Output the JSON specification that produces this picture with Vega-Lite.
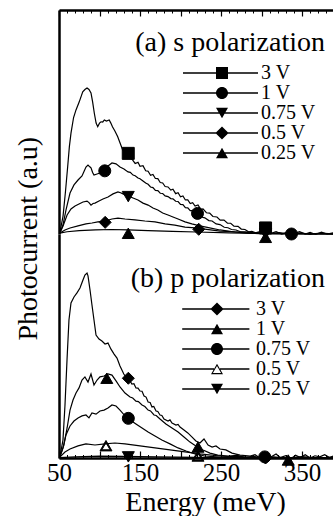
{
  "$schema": "https://vega.github.io/schema/vega-lite/v6.json",
  "background": "white",
  "padding": {"left": 14, "top": 9, "right": 0, "bottom": 0},
  "config": {
    "view": {"stroke": null},
    "axis": {"domainColor": "black", "domainWidth": 2.5, "tickColor": "black", "grid": false, "labelColor": "black", "titleColor": "black", "titleFontWeight": "normal"},
    "legend": {"labelColor": "black"},
    "title": {"font": "Liberation Serif, Times New Roman, serif", "fontWeight": "normal", "color": "black"}
  },
  "datasets": {
    "curves": [
      {"p":"a","V":"3 V","E":51,"I":0.05},{"p":"a","V":"3 V","E":55,"I":0.8},{"p":"a","V":"3 V","E":58,"I":1.9},{"p":"a","V":"3 V","E":60.7,"I":3.0},{"p":"a","V":"3 V","E":62.8,"I":3.9},{"p":"a","V":"3 V","E":64.8,"I":4.5},{"p":"a","V":"3 V","E":68,"I":5.2},{"p":"a","V":"3 V","E":71,"I":5.54},{"p":"a","V":"3 V","E":75,"I":5.9},{"p":"a","V":"3 V","E":79.3,"I":6.35},{"p":"a","V":"3 V","E":82,"I":6.45},{"p":"a","V":"3 V","E":84.6,"I":6.52},{"p":"a","V":"3 V","E":87,"I":6.45},{"p":"a","V":"3 V","E":89.5,"I":6.3},{"p":"a","V":"3 V","E":91.5,"I":5.9},{"p":"a","V":"3 V","E":93.6,"I":5.39},{"p":"a","V":"3 V","E":95.8,"I":4.95},{"p":"a","V":"3 V","E":97.8,"I":4.79},{"p":"a","V":"3 V","E":100,"I":4.95},{"p":"a","V":"3 V","E":101.9,"I":5.01},{"p":"a","V":"3 V","E":104,"I":5.0},{"p":"a","V":"3 V","E":106,"I":5.09},{"p":"a","V":"3 V","E":108.5,"I":5.04},{"p":"a","V":"3 V","E":112,"I":5.09},{"p":"a","V":"3 V","E":114,"I":4.95},{"p":"a","V":"3 V","E":116,"I":4.79},{"p":"a","V":"3 V","E":119,"I":4.6},{"p":"a","V":"3 V","E":122.5,"I":4.34},{"p":"a","V":"3 V","E":125.5,"I":4.05},{"p":"a","V":"3 V","E":128.6,"I":3.75},{"p":"a","V":"3 V","E":132,"I":3.62},{"p":"a","V":"3 V","E":135.6,"I":3.55},{"p":"a","V":"3 V","E":138,"I":3.4},{"p":"a","V":"3 V","E":141,"I":3.3},{"p":"a","V":"3 V","E":144,"I":3.15},{"p":"a","V":"3 V","E":147.5,"I":3.2},{"p":"a","V":"3 V","E":150,"I":3.02},{"p":"a","V":"3 V","E":153.7,"I":3.05},{"p":"a","V":"3 V","E":157,"I":2.82},{"p":"a","V":"3 V","E":160,"I":2.8},{"p":"a","V":"3 V","E":163,"I":2.62},{"p":"a","V":"3 V","E":166,"I":2.66},{"p":"a","V":"3 V","E":169,"I":2.48},{"p":"a","V":"3 V","E":172,"I":2.47},{"p":"a","V":"3 V","E":175,"I":2.3},{"p":"a","V":"3 V","E":178,"I":2.28},{"p":"a","V":"3 V","E":181,"I":2.12},{"p":"a","V":"3 V","E":184.6,"I":2.1},{"p":"a","V":"3 V","E":188,"I":1.96},{"p":"a","V":"3 V","E":190.7,"I":2.0},{"p":"a","V":"3 V","E":194,"I":1.8},{"p":"a","V":"3 V","E":197,"I":1.84},{"p":"a","V":"3 V","E":200,"I":1.66},{"p":"a","V":"3 V","E":203,"I":1.7},{"p":"a","V":"3 V","E":206,"I":1.52},{"p":"a","V":"3 V","E":209,"I":1.52},{"p":"a","V":"3 V","E":212,"I":1.36},{"p":"a","V":"3 V","E":215,"I":1.4},{"p":"a","V":"3 V","E":218,"I":1.25},{"p":"a","V":"3 V","E":221.6,"I":1.3},{"p":"a","V":"3 V","E":225,"I":1.1},{"p":"a","V":"3 V","E":227.8,"I":1.12},{"p":"a","V":"3 V","E":232,"I":0.95},{"p":"a","V":"3 V","E":236,"I":0.93},{"p":"a","V":"3 V","E":240,"I":0.78},{"p":"a","V":"3 V","E":245,"I":0.76},{"p":"a","V":"3 V","E":249,"I":0.62},{"p":"a","V":"3 V","E":253.7,"I":0.62},{"p":"a","V":"3 V","E":258,"I":0.48},{"p":"a","V":"3 V","E":262,"I":0.48},{"p":"a","V":"3 V","E":266,"I":0.35},{"p":"a","V":"3 V","E":271,"I":0.34},{"p":"a","V":"3 V","E":275,"I":0.22},{"p":"a","V":"3 V","E":279.6,"I":0.2},{"p":"a","V":"3 V","E":284,"I":0.1},{"p":"a","V":"3 V","E":288,"I":0.12},{"p":"a","V":"3 V","E":293,"I":0.05},{"p":"a","V":"3 V","E":298,"I":0.1},{"p":"a","V":"3 V","E":305,"I":0.12},{"p":"a","V":"3 V","E":312,"I":0.03},{"p":"a","V":"3 V","E":318,"I":0.1},{"p":"a","V":"3 V","E":325,"I":0.0},{"p":"a","V":"3 V","E":332,"I":0.08},{"p":"a","V":"3 V","E":340,"I":0.02},{"p":"a","V":"3 V","E":347,"I":0.1},{"p":"a","V":"3 V","E":354,"I":0.0},{"p":"a","V":"3 V","E":360,"I":0.07},{"p":"a","V":"3 V","E":367,"I":-0.02},{"p":"a","V":"3 V","E":374,"I":0.08},{"p":"a","V":"3 V","E":381,"I":0.0},{"p":"a","V":"3 V","E":389.5,"I":0.06},

      {"p":"a","V":"1 V","E":51,"I":0.04},{"p":"a","V":"1 V","E":54.9,"I":0.4},{"p":"a","V":"1 V","E":58.6,"I":1.07},{"p":"a","V":"1 V","E":63.6,"I":1.83},{"p":"a","V":"1 V","E":68.5,"I":2.19},{"p":"a","V":"1 V","E":73.5,"I":2.41},{"p":"a","V":"1 V","E":78.4,"I":2.59},{"p":"a","V":"1 V","E":81,"I":2.8},{"p":"a","V":"1 V","E":83.3,"I":2.99},{"p":"a","V":"1 V","E":85.8,"I":3.08},{"p":"a","V":"1 V","E":88,"I":3.0},{"p":"a","V":"1 V","E":89.5,"I":2.95},{"p":"a","V":"1 V","E":91.5,"I":2.75},{"p":"a","V":"1 V","E":93.2,"I":2.63},{"p":"a","V":"1 V","E":97,"I":2.68},{"p":"a","V":"1 V","E":100.6,"I":2.72},{"p":"a","V":"1 V","E":105.6,"I":2.86},{"p":"a","V":"1 V","E":110.5,"I":3.04},{"p":"a","V":"1 V","E":115.4,"I":3.17},{"p":"a","V":"1 V","E":120.4,"I":3.13},{"p":"a","V":"1 V","E":125.3,"I":2.99},{"p":"a","V":"1 V","E":130.2,"I":2.9},{"p":"a","V":"1 V","E":135.2,"I":2.77},{"p":"a","V":"1 V","E":138,"I":2.75},{"p":"a","V":"1 V","E":141.4,"I":2.63},{"p":"a","V":"1 V","E":144,"I":2.6},{"p":"a","V":"1 V","E":147.5,"I":2.5},{"p":"a","V":"1 V","E":150,"I":2.47},{"p":"a","V":"1 V","E":153.7,"I":2.37},{"p":"a","V":"1 V","E":157,"I":2.28},{"p":"a","V":"1 V","E":160,"I":2.22},{"p":"a","V":"1 V","E":163,"I":2.1},{"p":"a","V":"1 V","E":166,"I":2.07},{"p":"a","V":"1 V","E":169,"I":1.95},{"p":"a","V":"1 V","E":172,"I":1.94},{"p":"a","V":"1 V","E":175,"I":1.82},{"p":"a","V":"1 V","E":178,"I":1.81},{"p":"a","V":"1 V","E":181,"I":1.7},{"p":"a","V":"1 V","E":184.6,"I":1.67},{"p":"a","V":"1 V","E":188,"I":1.58},{"p":"a","V":"1 V","E":190.7,"I":1.57},{"p":"a","V":"1 V","E":194,"I":1.46},{"p":"a","V":"1 V","E":197,"I":1.45},{"p":"a","V":"1 V","E":200,"I":1.32},{"p":"a","V":"1 V","E":203,"I":1.31},{"p":"a","V":"1 V","E":206,"I":1.18},{"p":"a","V":"1 V","E":209,"I":1.17},{"p":"a","V":"1 V","E":212,"I":1.04},{"p":"a","V":"1 V","E":215,"I":1.04},{"p":"a","V":"1 V","E":218,"I":0.92},{"p":"a","V":"1 V","E":221.6,"I":0.9},{"p":"a","V":"1 V","E":226,"I":0.76},{"p":"a","V":"1 V","E":230,"I":0.72},{"p":"a","V":"1 V","E":235,"I":0.6},{"p":"a","V":"1 V","E":239,"I":0.58},{"p":"a","V":"1 V","E":244,"I":0.45},{"p":"a","V":"1 V","E":248.8,"I":0.42},{"p":"a","V":"1 V","E":254,"I":0.3},{"p":"a","V":"1 V","E":258.6,"I":0.28},{"p":"a","V":"1 V","E":263,"I":0.2},{"p":"a","V":"1 V","E":268.5,"I":0.18},{"p":"a","V":"1 V","E":274,"I":0.1},{"p":"a","V":"1 V","E":279.6,"I":0.1},{"p":"a","V":"1 V","E":290,"I":0.05},{"p":"a","V":"1 V","E":300,"I":0.1},{"p":"a","V":"1 V","E":310,"I":0.02},{"p":"a","V":"1 V","E":322,"I":0.06},{"p":"a","V":"1 V","E":335,"I":0.0},{"p":"a","V":"1 V","E":348,"I":0.05},{"p":"a","V":"1 V","E":360,"I":-0.02},{"p":"a","V":"1 V","E":372,"I":0.04},{"p":"a","V":"1 V","E":389.5,"I":0.0},

      {"p":"a","V":"0.75 V","E":51,"I":0.04},{"p":"a","V":"0.75 V","E":55,"I":0.36},{"p":"a","V":"0.75 V","E":60,"I":0.85},{"p":"a","V":"0.75 V","E":64.8,"I":1.12},{"p":"a","V":"0.75 V","E":69.8,"I":1.25},{"p":"a","V":"0.75 V","E":74.7,"I":1.34},{"p":"a","V":"0.75 V","E":79.6,"I":1.43},{"p":"a","V":"0.75 V","E":84.6,"I":1.47},{"p":"a","V":"0.75 V","E":87,"I":1.4},{"p":"a","V":"0.75 V","E":89.5,"I":1.29},{"p":"a","V":"0.75 V","E":92,"I":1.36},{"p":"a","V":"0.75 V","E":94.4,"I":1.38},{"p":"a","V":"0.75 V","E":99.4,"I":1.47},{"p":"a","V":"0.75 V","E":104.3,"I":1.56},{"p":"a","V":"0.75 V","E":110.5,"I":1.65},{"p":"a","V":"0.75 V","E":116.7,"I":1.79},{"p":"a","V":"0.75 V","E":122.8,"I":1.88},{"p":"a","V":"0.75 V","E":126,"I":1.84},{"p":"a","V":"0.75 V","E":129,"I":1.79},{"p":"a","V":"0.75 V","E":135.2,"I":1.7},{"p":"a","V":"0.75 V","E":141.4,"I":1.61},{"p":"a","V":"0.75 V","E":147.5,"I":1.52},{"p":"a","V":"0.75 V","E":153.7,"I":1.38},{"p":"a","V":"0.75 V","E":160,"I":1.29},{"p":"a","V":"0.75 V","E":166,"I":1.16},{"p":"a","V":"0.75 V","E":172,"I":1.07},{"p":"a","V":"0.75 V","E":178,"I":0.94},{"p":"a","V":"0.75 V","E":184.6,"I":0.85},{"p":"a","V":"0.75 V","E":190.7,"I":0.76},{"p":"a","V":"0.75 V","E":197,"I":0.67},{"p":"a","V":"0.75 V","E":205.6,"I":0.54},{"p":"a","V":"0.75 V","E":214,"I":0.45},{"p":"a","V":"0.75 V","E":224,"I":0.36},{"p":"a","V":"0.75 V","E":236,"I":0.27},{"p":"a","V":"0.75 V","E":248.8,"I":0.18},{"p":"a","V":"0.75 V","E":267,"I":0.09},{"p":"a","V":"0.75 V","E":285,"I":0.03},{"p":"a","V":"0.75 V","E":310,"I":0.02},{"p":"a","V":"0.75 V","E":389.5,"I":0.0},

      {"p":"a","V":"0.5 V","E":51,"I":0.04},{"p":"a","V":"0.5 V","E":57.4,"I":0.18},{"p":"a","V":"0.5 V","E":63.6,"I":0.27},{"p":"a","V":"0.5 V","E":73.5,"I":0.36},{"p":"a","V":"0.5 V","E":83.3,"I":0.45},{"p":"a","V":"0.5 V","E":90.7,"I":0.49},{"p":"a","V":"0.5 V","E":98,"I":0.54},{"p":"a","V":"0.5 V","E":106.8,"I":0.58},{"p":"a","V":"0.5 V","E":115.4,"I":0.67},{"p":"a","V":"0.5 V","E":122.8,"I":0.71},{"p":"a","V":"0.5 V","E":131.5,"I":0.67},{"p":"a","V":"0.5 V","E":143.8,"I":0.63},{"p":"a","V":"0.5 V","E":156,"I":0.58},{"p":"a","V":"0.5 V","E":168.5,"I":0.54},{"p":"a","V":"0.5 V","E":181,"I":0.45},{"p":"a","V":"0.5 V","E":193,"I":0.4},{"p":"a","V":"0.5 V","E":205.6,"I":0.31},{"p":"a","V":"0.5 V","E":218,"I":0.27},{"p":"a","V":"0.5 V","E":230,"I":0.22},{"p":"a","V":"0.5 V","E":248.8,"I":0.13},{"p":"a","V":"0.5 V","E":273,"I":0.09},{"p":"a","V":"0.5 V","E":300,"I":0.03},{"p":"a","V":"0.5 V","E":389.5,"I":0.0},

      {"p":"a","V":"0.25 V","E":51,"I":0.04},{"p":"a","V":"0.25 V","E":60,"I":0.1},{"p":"a","V":"0.25 V","E":75,"I":0.15},{"p":"a","V":"0.25 V","E":95,"I":0.18},{"p":"a","V":"0.25 V","E":115,"I":0.2},{"p":"a","V":"0.25 V","E":135,"I":0.18},{"p":"a","V":"0.25 V","E":160,"I":0.15},{"p":"a","V":"0.25 V","E":190,"I":0.12},{"p":"a","V":"0.25 V","E":220,"I":0.09},{"p":"a","V":"0.25 V","E":260,"I":0.05},{"p":"a","V":"0.25 V","E":300,"I":0.02},{"p":"a","V":"0.25 V","E":389.5,"I":0.0},

      {"p":"b","V":"3 V","E":51,"I":0.04},{"p":"b","V":"3 V","E":54.9,"I":0.8},{"p":"b","V":"3 V","E":57.4,"I":2.37},{"p":"b","V":"3 V","E":59.9,"I":4.38},{"p":"b","V":"3 V","E":62.3,"I":6.16},{"p":"b","V":"3 V","E":64.8,"I":6.92},{"p":"b","V":"3 V","E":68.5,"I":7.19},{"p":"b","V":"3 V","E":72.2,"I":7.37},{"p":"b","V":"3 V","E":75.9,"I":7.59},{"p":"b","V":"3 V","E":79.6,"I":7.95},{"p":"b","V":"3 V","E":82,"I":8.17},{"p":"b","V":"3 V","E":84.6,"I":8.26},{"p":"b","V":"3 V","E":85.8,"I":8.13},{"p":"b","V":"3 V","E":88.3,"I":7.5},{"p":"b","V":"3 V","E":90.7,"I":6.83},{"p":"b","V":"3 V","E":93.2,"I":6.16},{"p":"b","V":"3 V","E":95.7,"I":5.49},{"p":"b","V":"3 V","E":99.4,"I":5.31},{"p":"b","V":"3 V","E":103,"I":5.22},{"p":"b","V":"3 V","E":106.8,"I":5.09},{"p":"b","V":"3 V","E":110.5,"I":5.13},{"p":"b","V":"3 V","E":114,"I":4.87},{"p":"b","V":"3 V","E":118,"I":4.64},{"p":"b","V":"3 V","E":121.6,"I":4.46},{"p":"b","V":"3 V","E":125.3,"I":4.11},{"p":"b","V":"3 V","E":130,"I":3.75},{"p":"b","V":"3 V","E":135,"I":3.48},{"p":"b","V":"3 V","E":137.5,"I":3.45},{"p":"b","V":"3 V","E":140,"I":3.3},{"p":"b","V":"3 V","E":142.5,"I":3.32},{"p":"b","V":"3 V","E":145,"I":3.13},{"p":"b","V":"3 V","E":147.5,"I":3.12},{"p":"b","V":"3 V","E":150,"I":2.99},{"p":"b","V":"3 V","E":152.5,"I":2.98},{"p":"b","V":"3 V","E":155,"I":2.77},{"p":"b","V":"3 V","E":157.5,"I":2.72},{"p":"b","V":"3 V","E":160,"I":2.5},{"p":"b","V":"3 V","E":162.5,"I":2.48},{"p":"b","V":"3 V","E":164.8,"I":2.28},{"p":"b","V":"3 V","E":167,"I":2.3},{"p":"b","V":"3 V","E":169.8,"I":2.1},{"p":"b","V":"3 V","E":172,"I":2.08},{"p":"b","V":"3 V","E":174.7,"I":1.92},{"p":"b","V":"3 V","E":177,"I":1.9},{"p":"b","V":"3 V","E":179.6,"I":1.74},{"p":"b","V":"3 V","E":184.6,"I":1.65},{"p":"b","V":"3 V","E":187,"I":1.7},{"p":"b","V":"3 V","E":189.5,"I":1.56},{"p":"b","V":"3 V","E":194.4,"I":1.47},{"p":"b","V":"3 V","E":197,"I":1.5},{"p":"b","V":"3 V","E":199.4,"I":1.38},{"p":"b","V":"3 V","E":204.3,"I":1.25},{"p":"b","V":"3 V","E":209,"I":1.12},{"p":"b","V":"3 V","E":214,"I":0.94},{"p":"b","V":"3 V","E":219,"I":0.76},{"p":"b","V":"3 V","E":224,"I":0.67},{"p":"b","V":"3 V","E":229,"I":0.85},{"p":"b","V":"3 V","E":234,"I":0.58},{"p":"b","V":"3 V","E":239,"I":0.49},{"p":"b","V":"3 V","E":243.8,"I":0.54},{"p":"b","V":"3 V","E":248.8,"I":0.4},{"p":"b","V":"3 V","E":256,"I":0.36},{"p":"b","V":"3 V","E":263.6,"I":0.22},{"p":"b","V":"3 V","E":273.5,"I":0.13},{"p":"b","V":"3 V","E":286,"I":0.09},{"p":"b","V":"3 V","E":292,"I":0.15},{"p":"b","V":"3 V","E":298,"I":0.0},{"p":"b","V":"3 V","E":305,"I":0.12},{"p":"b","V":"3 V","E":312,"I":0.05},{"p":"b","V":"3 V","E":318,"I":0.18},{"p":"b","V":"3 V","E":323,"I":0.02},{"p":"b","V":"3 V","E":330,"I":0.1},{"p":"b","V":"3 V","E":336,"I":-0.05},{"p":"b","V":"3 V","E":342,"I":0.12},{"p":"b","V":"3 V","E":348,"I":0.02},{"p":"b","V":"3 V","E":354,"I":0.15},{"p":"b","V":"3 V","E":360,"I":0.0},{"p":"b","V":"3 V","E":366,"I":0.1},{"p":"b","V":"3 V","E":372,"I":0.05},{"p":"b","V":"3 V","E":378,"I":0.15},{"p":"b","V":"3 V","E":384,"I":0.02},{"p":"b","V":"3 V","E":389.5,"I":0.1},

      {"p":"b","V":"1 V","E":51,"I":0.04},{"p":"b","V":"1 V","E":56,"I":0.58},{"p":"b","V":"1 V","E":60,"I":1.34},{"p":"b","V":"1 V","E":63.6,"I":2.14},{"p":"b","V":"1 V","E":67.3,"I":2.59},{"p":"b","V":"1 V","E":71,"I":2.9},{"p":"b","V":"1 V","E":74.7,"I":3.13},{"p":"b","V":"1 V","E":78.4,"I":3.48},{"p":"b","V":"1 V","E":82,"I":3.62},{"p":"b","V":"1 V","E":85.8,"I":3.39},{"p":"b","V":"1 V","E":89.5,"I":3.75},{"p":"b","V":"1 V","E":93.2,"I":3.26},{"p":"b","V":"1 V","E":97,"I":3.48},{"p":"b","V":"1 V","E":100.6,"I":3.62},{"p":"b","V":"1 V","E":105.6,"I":3.66},{"p":"b","V":"1 V","E":110.5,"I":3.75},{"p":"b","V":"1 V","E":115.4,"I":3.7},{"p":"b","V":"1 V","E":120.4,"I":3.44},{"p":"b","V":"1 V","E":125.3,"I":3.17},{"p":"b","V":"1 V","E":131.5,"I":2.9},{"p":"b","V":"1 V","E":137.7,"I":2.72},{"p":"b","V":"1 V","E":141,"I":2.68},{"p":"b","V":"1 V","E":145,"I":2.54},{"p":"b","V":"1 V","E":148,"I":2.52},{"p":"b","V":"1 V","E":152.5,"I":2.37},{"p":"b","V":"1 V","E":156,"I":2.3},{"p":"b","V":"1 V","E":160,"I":2.14},{"p":"b","V":"1 V","E":163,"I":2.1},{"p":"b","V":"1 V","E":167.3,"I":1.92},{"p":"b","V":"1 V","E":170,"I":1.9},{"p":"b","V":"1 V","E":174.7,"I":1.74},{"p":"b","V":"1 V","E":182,"I":1.52},{"p":"b","V":"1 V","E":189.5,"I":1.34},{"p":"b","V":"1 V","E":197,"I":1.16},{"p":"b","V":"1 V","E":204.3,"I":0.94},{"p":"b","V":"1 V","E":211.7,"I":0.71},{"p":"b","V":"1 V","E":219,"I":0.54},{"p":"b","V":"1 V","E":227.8,"I":0.36},{"p":"b","V":"1 V","E":236.4,"I":0.22},{"p":"b","V":"1 V","E":246,"I":0.13},{"p":"b","V":"1 V","E":258.6,"I":0.09},{"p":"b","V":"1 V","E":270,"I":0.12},{"p":"b","V":"1 V","E":280,"I":0.02},{"p":"b","V":"1 V","E":290,"I":0.08},{"p":"b","V":"1 V","E":300,"I":0.0},{"p":"b","V":"1 V","E":315,"I":0.05},{"p":"b","V":"1 V","E":330,"I":0.0},{"p":"b","V":"1 V","E":350,"I":0.06},{"p":"b","V":"1 V","E":370,"I":0.0},{"p":"b","V":"1 V","E":389.5,"I":0.04},

      {"p":"b","V":"0.75 V","E":51,"I":0.04},{"p":"b","V":"0.75 V","E":55,"I":0.45},{"p":"b","V":"0.75 V","E":58.6,"I":1.03},{"p":"b","V":"0.75 V","E":63.6,"I":1.43},{"p":"b","V":"0.75 V","E":68.5,"I":1.65},{"p":"b","V":"0.75 V","E":73.5,"I":1.79},{"p":"b","V":"0.75 V","E":78.4,"I":1.88},{"p":"b","V":"0.75 V","E":83.3,"I":1.92},{"p":"b","V":"0.75 V","E":87,"I":1.79},{"p":"b","V":"0.75 V","E":90.7,"I":2.01},{"p":"b","V":"0.75 V","E":95.7,"I":1.96},{"p":"b","V":"0.75 V","E":100.6,"I":2.1},{"p":"b","V":"0.75 V","E":105.6,"I":2.14},{"p":"b","V":"0.75 V","E":110.5,"I":2.23},{"p":"b","V":"0.75 V","E":115.4,"I":2.37},{"p":"b","V":"0.75 V","E":120.4,"I":2.32},{"p":"b","V":"0.75 V","E":125.3,"I":2.14},{"p":"b","V":"0.75 V","E":131.5,"I":1.88},{"p":"b","V":"0.75 V","E":137.7,"I":1.7},{"p":"b","V":"0.75 V","E":145,"I":1.52},{"p":"b","V":"0.75 V","E":152.5,"I":1.34},{"p":"b","V":"0.75 V","E":160,"I":1.16},{"p":"b","V":"0.75 V","E":168.5,"I":0.98},{"p":"b","V":"0.75 V","E":177,"I":0.8},{"p":"b","V":"0.75 V","E":187,"I":0.63},{"p":"b","V":"0.75 V","E":197,"I":0.45},{"p":"b","V":"0.75 V","E":206.8,"I":0.31},{"p":"b","V":"0.75 V","E":218,"I":0.18},{"p":"b","V":"0.75 V","E":230,"I":0.09},{"p":"b","V":"0.75 V","E":248.8,"I":0.04},{"p":"b","V":"0.75 V","E":270,"I":0.06},{"p":"b","V":"0.75 V","E":300,"I":0.0},{"p":"b","V":"0.75 V","E":389.5,"I":0.0},

      {"p":"b","V":"0.5 V","E":51,"I":0.04},{"p":"b","V":"0.5 V","E":57.4,"I":0.27},{"p":"b","V":"0.5 V","E":63.6,"I":0.4},{"p":"b","V":"0.5 V","E":73.5,"I":0.54},{"p":"b","V":"0.5 V","E":83.3,"I":0.63},{"p":"b","V":"0.5 V","E":94.4,"I":0.58},{"p":"b","V":"0.5 V","E":106.8,"I":0.63},{"p":"b","V":"0.5 V","E":119,"I":0.67},{"p":"b","V":"0.5 V","E":131.5,"I":0.63},{"p":"b","V":"0.5 V","E":150,"I":0.54},{"p":"b","V":"0.5 V","E":168.5,"I":0.45},{"p":"b","V":"0.5 V","E":187,"I":0.36},{"p":"b","V":"0.5 V","E":205.6,"I":0.27},{"p":"b","V":"0.5 V","E":224,"I":0.18},{"p":"b","V":"0.5 V","E":248.8,"I":0.09},{"p":"b","V":"0.5 V","E":273,"I":0.04},{"p":"b","V":"0.5 V","E":300,"I":0.0},{"p":"b","V":"0.5 V","E":389.5,"I":0.0},

      {"p":"b","V":"0.25 V","E":51,"I":0.02},{"p":"b","V":"0.25 V","E":70,"I":0.05},{"p":"b","V":"0.25 V","E":100,"I":0.08},{"p":"b","V":"0.25 V","E":130,"I":0.07},{"p":"b","V":"0.25 V","E":170,"I":0.05},{"p":"b","V":"0.25 V","E":220,"I":0.03},{"p":"b","V":"0.25 V","E":280,"I":0.01},{"p":"b","V":"0.25 V","E":389.5,"I":0.0}
    ],
    "markers": [
      {"p":"a","V":"3 V","E":135.5,"I":3.6},{"p":"a","V":"3 V","E":305,"I":0.27},
      {"p":"a","V":"1 V","E":106.5,"I":2.82},{"p":"a","V":"1 V","E":221,"I":0.92},{"p":"a","V":"1 V","E":337,"I":0.0},
      {"p":"a","V":"0.75 V","E":135.5,"I":1.67},{"p":"a","V":"0.75 V","E":305,"I":0.0},
      {"p":"a","V":"0.5 V","E":107,"I":0.52},{"p":"a","V":"0.5 V","E":222.5,"I":0.21},
      {"p":"a","V":"0.25 V","E":135.5,"I":0.03},{"p":"a","V":"0.25 V","E":305,"I":-0.15},
      {"p":"b","V":"3 V","E":135.6,"I":3.56},{"p":"b","V":"3 V","E":305,"I":0.0},
      {"p":"b","V":"1 V","E":109,"I":3.56},{"p":"b","V":"1 V","E":221.6,"I":0.49},{"p":"b","V":"1 V","E":333,"I":-0.09},
      {"p":"b","V":"0.75 V","E":135.6,"I":1.77},{"p":"b","V":"0.75 V","E":304,"I":0.05},
      {"p":"b","V":"0.5 V","E":108,"I":0.55},{"p":"b","V":"0.5 V","E":221.6,"I":0.09},
      {"p":"b","V":"0.25 V","E":135.6,"I":0.05}
    ]
  },
  "title": {"text": "Photocurrent (a.u)", "orient": "left", "anchor": "middle", "frame": "bounds", "fontSize": 28, "offset": 4, "dx": 24},
  "spacing": 0,
  "bounds": "flush",
  "resolve": {"scale": {"shape": "independent"}, "legend": {"shape": "independent"}},
  "vconcat": [
    {
      "width": 275,
      "height": 224,
      "title": {"text": "(a) s polarization", "orient": "top", "anchor": "end", "frame": "group", "offset": -44, "dy": 26, "baseline": "alphabetic", "fontSize": 28, "dx": -9},
      "encoding": {
        "y": {"field": "I", "type": "quantitative", "scale": {"domain": [0, 10], "nice": false, "zero": false},
              "axis": {"orient": "left", "ticks": false, "labels": false, "domain": true, "title": null}}
      },
      "layer": [
        {
          "data": {"name": "curves"},
          "transform": [{"filter": "datum.p == 'a'"}],
          "mark": {"type": "line", "color": "black", "strokeWidth": 1.2},
          "encoding": {
            "x": {"field": "E", "type": "quantitative", "scale": {"domain": [50, 389.5], "nice": false, "zero": false},
                  "axis": {"orient": "top", "values": [50, 100, 150, 200, 250, 300, 350], "tickSize": -6, "tickWidth": 1.2, "labels": false, "title": null, "domain": true}},
            "detail": {"field": "V"}
          }
        },
        {
          "data": {"name": "markers"},
          "transform": [{"filter": "datum.p == 'a'"}],
          "mark": {"type": "point", "filled": true, "color": "black", "stroke": "black", "strokeWidth": 1, "size": 144, "opacity": 1},
          "encoding": {
            "x": {"field": "E", "type": "quantitative",
                  "axis": {"orient": "top", "values": [60,70,80,90,110,120,130,140,160,170,180,190,210,220,230,240,260,270,280,290,310,320,330,340,360,370,380], "tickSize": -3, "tickWidth": 1, "labels": false, "title": null, "domain": false}},
            "shape": {"field": "V", "type": "nominal", "legend": null,
                      "scale": {"domain": ["3 V", "1 V", "0.75 V", "0.5 V", "0.25 V"], "range": ["square", "circle", "triangle-down", "diamond", "triangle-up"]}}
          }
        },
        {
          "data": {"name": "markers"},
          "transform": [{"filter": "datum.p == 'a'"}],
          "mark": {"type": "point", "filled": true, "color": "black", "size": 0},
          "encoding": {
            "x": {"field": "E", "type": "quantitative", "axis": null},
            "shape": {"field": "V", "type": "nominal",
                      "scale": {"domain": ["3 V", "1 V", "0.75 V", "0.5 V", "0.25 V"],
                                "range": ["M-6.5,-0.12H6V0.12H-6.5ZM-1,-1H1V1H-1Z", "M-6.5,-0.12H6V0.12H-6.5ZM-1,0A1,1,0,1,1,1,0A1,1,0,1,1,-1,0Z", "M-6.5,-0.12H6V0.12H-6.5ZM-1,-0.87L1,-0.87L0,0.87Z", "M-6.5,-0.12H6V0.12H-6.5ZM-1.1,0L0,-1.1L1.1,0L0,1.1Z", "M-6.5,-0.12H6V0.12H-6.5ZM0,-0.87L1,0.87L-1,0.87Z"]},
                      "legend": {"orient": "none", "legendX": 153, "legendY": 53, "title": null, "padding": 0, "labelFont": "Liberation Serif, Times New Roman, serif", "labelFontSize": 20, "labelOffset": 29, "rowPadding": -3, "symbolSize": 144, "symbolFillColor": "black", "symbolStrokeWidth": 0, "symbolOpacity": 1}}
          }
        }
      ],
      "resolve": {"axis": {"x": "independent"}, "scale": {"shape": "independent"}, "legend": {"shape": "independent"}}
    },
    {
      "width": 275,
      "height": 224,
      "title": {"text": "(b) p polarization", "orient": "top", "anchor": "end", "frame": "group", "offset": -51, "dy": 30, "baseline": "alphabetic", "fontSize": 28, "dx": -9},
      "encoding": {
        "y": {"field": "I", "type": "quantitative", "scale": {"domain": [0, 10], "nice": false, "zero": false},
              "axis": {"orient": "left", "ticks": false, "labels": false, "domain": true, "title": null}}
      },
      "layer": [
        {
          "data": {"name": "curves"},
          "transform": [{"filter": "datum.p == 'b'"}],
          "mark": {"type": "line", "color": "black", "strokeWidth": 1.2},
          "encoding": {
            "x": {"field": "E", "type": "quantitative", "scale": {"domain": [50, 389.5], "nice": false, "zero": false},
                  "axis": {"orient": "bottom", "values": [50, 100, 150, 200, 250, 300, 350], "tickSize": -7, "tickWidth": 1.2, "labelExpr": "datum.value % 100 == 50 ? datum.label : ''", "labelFont": "Liberation Serif, Times New Roman, serif", "labelFontSize": 25, "labelPadding": 9, "labelFlush": false, "labelOverlap": false, "title": "Energy (meV)", "titleFont": "Liberation Serif, Times New Roman, serif", "titleFontSize": 28, "titlePadding": 3, "titleX": 146, "domain": true}},
            "detail": {"field": "V"}
          }
        },
        {
          "data": {"name": "markers"},
          "transform": [{"filter": "datum.p == 'b'"}],
          "mark": {"type": "point", "filled": true, "color": "black", "stroke": "black", "strokeWidth": 1, "size": 144, "opacity": 1},
          "encoding": {
            "x": {"field": "E", "type": "quantitative",
                  "axis": {"orient": "bottom", "values": [60,70,80,90,110,120,130,140,160,170,180,190,210,220,230,240,260,270,280,290,310,320,330,340,360,370,380], "tickSize": -3.5, "tickWidth": 1, "labels": false, "title": null, "domain": false}},
            "shape": {"field": "V", "type": "nominal", "legend": null,
                      "scale": {"domain": ["3 V", "1 V", "0.75 V", "0.5 V", "0.25 V"], "range": ["diamond", "triangle-up", "circle", "M0,-0.87L1,0.87L-1,0.87ZM0,-0.5L-0.68,0.684L0.68,0.684Z", "triangle-down"]}}
          }
        },
        {
          "data": {"name": "markers"},
          "transform": [{"filter": "datum.p == 'b'"}],
          "mark": {"type": "point", "filled": true, "color": "black", "size": 0},
          "encoding": {
            "x": {"field": "E", "type": "quantitative", "axis": null},
            "shape": {"field": "V", "type": "nominal",
                      "scale": {"domain": ["3 V", "1 V", "0.75 V", "0.5 V", "0.25 V"],
                                "range": ["M-5.8,-0.12H5.4V0.12H-5.8ZM-1.1,0L0,-1.1L1.1,0L0,1.1Z", "M-5.8,-0.12H5.4V0.12H-5.8ZM0,-0.87L1,0.87L-1,0.87Z", "M-5.8,-0.12H5.4V0.12H-5.8ZM-1,0A1,1,0,1,1,1,0A1,1,0,1,1,-1,0Z", "M-5.8,-0.12H-0.5V0.12H-5.8ZM0.5,-0.12H5.4V0.12H0.5ZM0,-0.87L1,0.87L-1,0.87ZM0,-0.5L-0.68,0.684L0.68,0.684Z", "M-5.8,-0.12H5.4V0.12H-5.8ZM-1,-0.87L1,-0.87L0,0.87Z"]},
                      "legend": {"orient": "none", "legendX": 148, "legendY": 65, "title": null, "padding": 0, "labelFont": "Liberation Serif, Times New Roman, serif", "labelFontSize": 20, "labelOffset": 29, "rowPadding": -3, "symbolSize": 144, "symbolFillColor": "black", "symbolStrokeWidth": 0, "symbolOpacity": 1}}
          }
        }
      ],
      "resolve": {"axis": {"x": "independent"}, "scale": {"shape": "independent"}, "legend": {"shape": "independent"}}
    }
  ]
}
